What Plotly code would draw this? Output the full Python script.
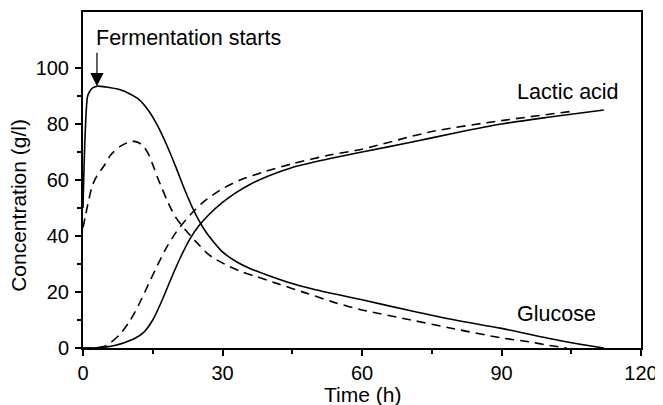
import plotly.graph_objects as go

# Glucose (solid and dashed curves)
glc_solid_t = [0, 0.5, 1, 1.5, 2, 3, 5, 8, 10, 12, 14, 16, 18, 20, 22, 24, 26, 28, 30, 33, 36, 40, 45, 50, 55, 60, 70, 80, 90, 100, 106, 112]
glc_solid_y = [50, 78, 90, 91.8, 92.8, 93.5, 93.2, 92.2, 90.8, 88.8, 85, 79.5, 72.5, 64.5, 56, 48.5, 42.5, 38, 34.3, 30.8, 28.3, 25.8, 23, 20.8, 19, 17.2, 13.5, 10, 7, 3.5, 1.6, 0]

glc_dash_t = [0, 0.5, 1, 2, 3, 4.5, 6, 8, 10, 11, 12, 13, 14, 15, 16, 17, 18, 19, 20, 22, 24, 26.6, 28, 31.6, 34, 37.3, 42, 48, 54, 60, 70, 80, 90, 96, 100, 104]
glc_dash_y = [43, 47, 51, 58, 61.5, 65, 69, 72, 73.6, 73.8, 73.3, 72, 69.5, 65.5, 61, 57, 53, 49.5, 46.5, 42.2, 38.5, 34, 32.2, 29, 27.3, 25.5, 22.9, 19.6, 16.3, 13.6, 10.2, 6.8, 3.6, 2.2, 1, 0]

# Lactic acid
lac_solid_t = [0, 3, 5, 7, 9, 11, 13, 15, 17, 19, 21, 23, 25, 27, 30, 33, 36, 40, 45, 50, 55, 60, 70, 80, 90, 100, 112]
lac_solid_y = [0, 0.1, 0.4, 1, 2, 3.3, 5.5, 10, 17, 25, 32.5, 39, 43.8, 47.5, 52, 55.6, 58.5, 61.5, 64.5, 66.5, 68.3, 70, 73.3, 76.8, 80, 82.4, 85]

lac_dash_t = [0, 3, 4.5, 6, 8, 10, 12, 14, 16, 18, 20, 22, 24, 26, 29.5, 33.8, 39.1, 45, 53, 60, 75, 90, 105]
lac_dash_y = [0, 0.1, 0.5, 2, 5, 9.5, 15.5, 22.5, 29.5, 36, 41.3, 45.5, 49.2, 52.3, 56.4, 60, 63, 65.8, 68.9, 71, 77.3, 81.2, 84.5]

x_ticks = [0, 30, 60, 90, 120]
x_minor = [15, 45, 75, 105]
y_ticks = [0, 20, 40, 60, 80, 100]
y_minor = [10, 30, 50, 70, 90]

FONT = "Liberation Sans, Arial, sans-serif"

fig = go.Figure()
solid = dict(color="black", width=1.6)
dashed = dict(color="black", width=1.6, dash="9px,6px")
for t, y, st in [(glc_solid_t, glc_solid_y, solid), (glc_dash_t, glc_dash_y, dashed),
                 (lac_solid_t, lac_solid_y, solid), (lac_dash_t, lac_dash_y, dashed)]:
    fig.add_trace(go.Scatter(x=t, y=y, mode="lines",
                             line=dict(shape="spline", smoothing=0.8, **st)))

axis_common = dict(
    showline=True, linecolor="black", linewidth=2, mirror=True,
    showgrid=False, zeroline=False,
    ticks="outside", ticklen=6, tickwidth=1.5, tickcolor="black",
    tickfont=dict(family=FONT, size=20, color="black"),
)

fig.update_xaxes(
    range=[0, 120], tickmode="array", tickvals=x_ticks, ticktext=[str(v) for v in x_ticks],
    minor=dict(tickmode="array", tickvals=x_minor, ticks="outside", ticklen=4, tickwidth=1.5, tickcolor="black"),
    **axis_common,
)
fig.update_yaxes(
    range=[0, 120], tickmode="array", tickvals=y_ticks, ticktext=[str(v) for v in y_ticks],
    minor=dict(tickmode="array", tickvals=y_minor, ticks="outside", ticklen=4, tickwidth=1.5, tickcolor="black"),
    ticklabelstandoff=2,
    **axis_common,
)

TXT = dict(family=FONT, size=21.5, color="black")

# axis titles (placed as annotations to match the original positions)
fig.add_annotation(x=60, y=-0.137, xref="x", yref="paper", text="Time (h)", showarrow=False,
                   xanchor="center", yanchor="middle", font=dict(family=FONT, size=21, color="black"))
fig.add_annotation(x=-0.115, y=0.4256, xref="paper", yref="paper", text="Concentration (g/l)",
                   textangle=-90, showarrow=False, xanchor="center", yanchor="middle",
                   font=dict(family=FONT, size=21, color="black"))

fig.add_annotation(x=3, y=93.5, xref="x", yref="y", ax=0, ay=-35, text="",
                   showarrow=True, arrowhead=2, arrowsize=2.2, arrowwidth=1.2, arrowcolor="black")
fig.add_annotation(x=2.4, y=110.8, xref="x", yref="y", text="Fermentation starts",
                   showarrow=False, xanchor="left", yanchor="middle", font=TXT)
fig.add_annotation(x=93, y=91.5, xref="x", yref="y", text="Lactic acid", showarrow=False,
                   xanchor="left", yanchor="middle", font=TXT)
fig.add_annotation(x=93, y=12, xref="x", yref="y", text="Glucose", showarrow=False,
                   xanchor="left", yanchor="middle", font=TXT)

# page body has an 8px default margin, so the figure is shrunk and margins shifted
fig.update_layout(
    width=655, height=397,
    margin=dict(l=75, r=22, t=4, b=57, autoexpand=False),
    paper_bgcolor="white", plot_bgcolor="white",
    showlegend=False,
)

fig.write_html("out.html")
